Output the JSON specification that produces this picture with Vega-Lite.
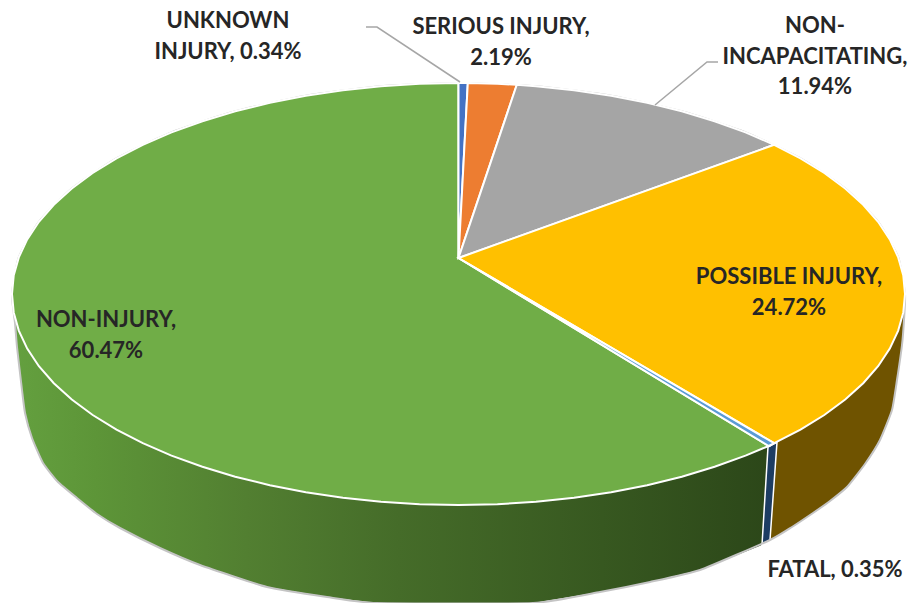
{"$schema":"https://vega.github.io/schema/vega-lite/v6.json","width":911,"height":603,"padding":0,"autosize":{"type":"none"},"background":"white","config":{"view":{"stroke":null}},
"datasets":{"shape":[
{"part":"sideGreen","i":1,"x":13,"y":300},{"part":"sideGreen","i":2,"x":15,"y":323},{"part":"sideGreen","i":3,"x":17,"y":347},{"part":"sideGreen","i":4,"x":22,"y":390},{"part":"sideGreen","i":5,"x":25,"y":413},{"part":"sideGreen","i":6,"x":32,"y":438},{"part":"sideGreen","i":7,"x":43,"y":463},{"part":"sideGreen","i":8,"x":58,"y":482},{"part":"sideGreen","i":9,"x":77,"y":498},{"part":"sideGreen","i":10,"x":97,"y":514},{"part":"sideGreen","i":11,"x":120,"y":528},{"part":"sideGreen","i":12,"x":160,"y":548},{"part":"sideGreen","i":13,"x":200,"y":565},{"part":"sideGreen","i":14,"x":267,"y":587},{"part":"sideGreen","i":15,"x":327,"y":597},{"part":"sideGreen","i":16,"x":377,"y":603},{"part":"sideGreen","i":17,"x":533,"y":603},{"part":"sideGreen","i":18,"x":600,"y":592},{"part":"sideGreen","i":19,"x":650,"y":582},{"part":"sideGreen","i":20,"x":700,"y":570},{"part":"sideGreen","i":21,"x":762,"y":545},{"part":"sideGreen","i":22,"x":768,"y":447},
{"part":"sideFatal","i":1,"x":768,"y":447},{"part":"sideFatal","i":2,"x":777,"y":442},{"part":"sideFatal","i":3,"x":770,"y":540},{"part":"sideFatal","i":4,"x":762,"y":545},
{"part":"sideYellow","i":1,"x":777,"y":442},{"part":"sideYellow","i":2,"x":905,"y":300},{"part":"sideYellow","i":3,"x":904,"y":320},{"part":"sideYellow","i":4,"x":902,"y":345},{"part":"sideYellow","i":5,"x":897,"y":380},{"part":"sideYellow","i":6,"x":892,"y":410},{"part":"sideYellow","i":7,"x":880,"y":440},{"part":"sideYellow","i":8,"x":865,"y":464},{"part":"sideYellow","i":9,"x":847,"y":487},{"part":"sideYellow","i":10,"x":830,"y":501},{"part":"sideYellow","i":11,"x":813,"y":513},{"part":"sideYellow","i":12,"x":792,"y":527},{"part":"sideYellow","i":13,"x":770,"y":540},
{"part":"outline","i":1,"x":12,"y":294},{"part":"outline","i":2,"x":18.8,"y":257.4},{"part":"outline","i":3,"x":38.9,"y":221.8},{"part":"outline","i":4,"x":71.8,"y":188.5},{"part":"outline","i":5,"x":116.5,"y":158.4},{"part":"outline","i":6,"x":171.5,"y":132.4},{"part":"outline","i":7,"x":235.2,"y":111.3},{"part":"outline","i":8,"x":305.8,"y":95.7},{"part":"outline","i":9,"x":381,"y":86.2},{"part":"outline","i":10,"x":458.5,"y":83},{"part":"outline","i":11,"x":536,"y":86.2},{"part":"outline","i":12,"x":611.2,"y":95.7},{"part":"outline","i":13,"x":681.8,"y":111.3},{"part":"outline","i":14,"x":745.5,"y":132.4},{"part":"outline","i":15,"x":800.5,"y":158.4},{"part":"outline","i":16,"x":845.2,"y":188.5},{"part":"outline","i":17,"x":878.1,"y":221.8},{"part":"outline","i":18,"x":898.2,"y":257.4},{"part":"outline","i":19,"x":905,"y":294},{"part":"outline","i":20,"x":904,"y":320},{"part":"outline","i":21,"x":902,"y":345},{"part":"outline","i":22,"x":897,"y":380},{"part":"outline","i":23,"x":892,"y":410},{"part":"outline","i":24,"x":880,"y":440},{"part":"outline","i":25,"x":865,"y":464},{"part":"outline","i":26,"x":847,"y":487},{"part":"outline","i":27,"x":830,"y":501},{"part":"outline","i":28,"x":813,"y":513},{"part":"outline","i":29,"x":792,"y":527},{"part":"outline","i":30,"x":770,"y":540},{"part":"outline","i":31,"x":700,"y":570},{"part":"outline","i":32,"x":650,"y":582},{"part":"outline","i":33,"x":600,"y":592},{"part":"outline","i":34,"x":533,"y":603},{"part":"outline","i":35,"x":377,"y":603},{"part":"outline","i":36,"x":327,"y":597},{"part":"outline","i":37,"x":267,"y":587},{"part":"outline","i":38,"x":200,"y":565},{"part":"outline","i":39,"x":160,"y":548},{"part":"outline","i":40,"x":120,"y":528},{"part":"outline","i":41,"x":97,"y":514},{"part":"outline","i":42,"x":77,"y":498},{"part":"outline","i":43,"x":58,"y":482},{"part":"outline","i":44,"x":43,"y":463},{"part":"outline","i":45,"x":32,"y":438},{"part":"outline","i":46,"x":25,"y":413},{"part":"outline","i":47,"x":22,"y":390},{"part":"outline","i":48,"x":17,"y":347},{"part":"outline","i":49,"x":15,"y":323},
{"part":"NON-INJURY","i":0,"x":458.5,"y":258},{"part":"NON-INJURY","i":1,"x":768.7,"y":446},{"part":"NON-INJURY","i":2,"x":745.5,"y":455.6},{"part":"NON-INJURY","i":3,"x":714.6,"y":466.8},{"part":"NON-INJURY","i":4,"x":681.8,"y":476.7},{"part":"NON-INJURY","i":5,"x":647.2,"y":485.2},{"part":"NON-INJURY","i":6,"x":611.2,"y":492.3},{"part":"NON-INJURY","i":7,"x":574.1,"y":497.8},{"part":"NON-INJURY","i":8,"x":536,"y":501.8},{"part":"NON-INJURY","i":9,"x":497.4,"y":504.2},{"part":"NON-INJURY","i":10,"x":458.5,"y":505},{"part":"NON-INJURY","i":11,"x":419.6,"y":504.2},{"part":"NON-INJURY","i":12,"x":381,"y":501.8},{"part":"NON-INJURY","i":13,"x":342.9,"y":497.8},{"part":"NON-INJURY","i":14,"x":305.8,"y":492.3},{"part":"NON-INJURY","i":15,"x":269.8,"y":485.2},{"part":"NON-INJURY","i":16,"x":235.2,"y":476.7},{"part":"NON-INJURY","i":17,"x":202.4,"y":466.8},{"part":"NON-INJURY","i":18,"x":171.5,"y":455.6},{"part":"NON-INJURY","i":19,"x":142.8,"y":443.2},{"part":"NON-INJURY","i":20,"x":116.5,"y":429.6},{"part":"NON-INJURY","i":21,"x":92.7,"y":415},{"part":"NON-INJURY","i":22,"x":71.8,"y":399.5},{"part":"NON-INJURY","i":23,"x":53.8,"y":383.2},{"part":"NON-INJURY","i":24,"x":38.9,"y":366.2},{"part":"NON-INJURY","i":25,"x":27.2,"y":348.6},{"part":"NON-INJURY","i":26,"x":18.8,"y":330.6},{"part":"NON-INJURY","i":27,"x":13.7,"y":312.4},{"part":"NON-INJURY","i":28,"x":12,"y":294},{"part":"NON-INJURY","i":29,"x":13.7,"y":275.6},{"part":"NON-INJURY","i":30,"x":18.8,"y":257.4},{"part":"NON-INJURY","i":31,"x":27.2,"y":239.4},{"part":"NON-INJURY","i":32,"x":38.9,"y":221.8},{"part":"NON-INJURY","i":33,"x":53.8,"y":204.8},{"part":"NON-INJURY","i":34,"x":71.8,"y":188.5},{"part":"NON-INJURY","i":35,"x":92.7,"y":173},{"part":"NON-INJURY","i":36,"x":116.5,"y":158.4},{"part":"NON-INJURY","i":37,"x":142.8,"y":144.8},{"part":"NON-INJURY","i":38,"x":171.5,"y":132.4},{"part":"NON-INJURY","i":39,"x":202.4,"y":121.2},{"part":"NON-INJURY","i":40,"x":235.2,"y":111.3},{"part":"NON-INJURY","i":41,"x":269.8,"y":102.8},{"part":"NON-INJURY","i":42,"x":305.8,"y":95.7},{"part":"NON-INJURY","i":43,"x":342.9,"y":90.2},{"part":"NON-INJURY","i":44,"x":381,"y":86.2},{"part":"NON-INJURY","i":45,"x":419.6,"y":83.8},{"part":"NON-INJURY","i":46,"x":458.5,"y":83},
{"part":"UNKNOWN INJURY","i":0,"x":458.5,"y":258},{"part":"UNKNOWN INJURY","i":1,"x":458.5,"y":83},{"part":"UNKNOWN INJURY","i":2,"x":467.8,"y":83},
{"part":"SERIOUS INJURY","i":0,"x":458.5,"y":258},{"part":"SERIOUS INJURY","i":1,"x":467.8,"y":83},{"part":"SERIOUS INJURY","i":2,"x":497.4,"y":83.8},{"part":"SERIOUS INJURY","i":3,"x":516.8,"y":84.8},
{"part":"NON-INCAPACITATING","i":0,"x":458.5,"y":258},{"part":"NON-INCAPACITATING","i":1,"x":516.8,"y":84.8},{"part":"NON-INCAPACITATING","i":2,"x":536,"y":86.2},{"part":"NON-INCAPACITATING","i":3,"x":574.1,"y":90.2},{"part":"NON-INCAPACITATING","i":4,"x":611.2,"y":95.7},{"part":"NON-INCAPACITATING","i":5,"x":647.2,"y":102.8},{"part":"NON-INCAPACITATING","i":6,"x":681.8,"y":111.3},{"part":"NON-INCAPACITATING","i":7,"x":714.6,"y":121.2},{"part":"NON-INCAPACITATING","i":8,"x":745.5,"y":132.4},{"part":"NON-INCAPACITATING","i":9,"x":774.2,"y":144.8},
{"part":"POSSIBLE INJURY","i":0,"x":458.5,"y":258},{"part":"POSSIBLE INJURY","i":1,"x":774.2,"y":144.8},{"part":"POSSIBLE INJURY","i":2,"x":800.5,"y":158.4},{"part":"POSSIBLE INJURY","i":3,"x":824.3,"y":173},{"part":"POSSIBLE INJURY","i":4,"x":845.2,"y":188.5},{"part":"POSSIBLE INJURY","i":5,"x":863.2,"y":204.8},{"part":"POSSIBLE INJURY","i":6,"x":878.1,"y":221.8},{"part":"POSSIBLE INJURY","i":7,"x":889.8,"y":239.4},{"part":"POSSIBLE INJURY","i":8,"x":898.2,"y":257.4},{"part":"POSSIBLE INJURY","i":9,"x":903.3,"y":275.6},{"part":"POSSIBLE INJURY","i":10,"x":905,"y":294},{"part":"POSSIBLE INJURY","i":11,"x":903.3,"y":312.4},{"part":"POSSIBLE INJURY","i":12,"x":898.2,"y":330.6},{"part":"POSSIBLE INJURY","i":13,"x":889.8,"y":348.6},{"part":"POSSIBLE INJURY","i":14,"x":878.1,"y":366.2},{"part":"POSSIBLE INJURY","i":15,"x":863.2,"y":383.2},{"part":"POSSIBLE INJURY","i":16,"x":845.2,"y":399.5},{"part":"POSSIBLE INJURY","i":17,"x":824.3,"y":415},{"part":"POSSIBLE INJURY","i":18,"x":800.5,"y":429.6},{"part":"POSSIBLE INJURY","i":19,"x":774.2,"y":443.2},
{"part":"FATAL","i":0,"x":458.5,"y":258},{"part":"FATAL","i":1,"x":774.2,"y":443.2},{"part":"FATAL","i":2,"x":768.7,"y":446},
{"part":"leaderA","i":1,"x":366,"y":27},{"part":"leaderA","i":2,"x":377,"y":27},{"part":"leaderA","i":3,"x":460,"y":82},
{"part":"leaderB","i":1,"x":655,"y":105},{"part":"leaderB","i":2,"x":707,"y":62},{"part":"leaderB","i":3,"x":718,"y":62}
],
"labels":[
{"label":"UNKNOWN\nINJURY, 0.34%","x":228,"y":21},
{"label":"SERIOUS INJURY,\n2.19%","x":501,"y":27},
{"label":"NON-\nINCAPACITATING,\n11.94%","x":815,"y":26},
{"label":"POSSIBLE INJURY,\n24.72%","x":789,"y":277},
{"label":"NON-INJURY,\n60.47%","x":106,"y":320},
{"label":"FATAL, 0.35%","x":835,"y":570}
]},
"layer":[
{"data":{"name":"shape"},"transform":[{"filter":"datum.part==='sideGreen'"}],"mark":{"type":"line","interpolate":"linear-closed","strokeWidth":0,"fill":{"gradient":"linear","x1":0,"y1":0,"x2":1,"y2":0,"stops":[{"offset":0,"color":"#64a03f"},{"offset":0.11,"color":"#5d9538"},{"offset":0.31,"color":"#527f31"},{"offset":0.51,"color":"#456c29"},{"offset":0.78,"color":"#375820"},{"offset":1,"color":"#2c4719"}]}},"encoding":{"x":{"field":"x","type":"quantitative","scale":{"domain":[0,911],"nice":false,"zero":false},"axis":null},"y":{"field":"y","type":"quantitative","scale":{"domain":[603,0],"nice":false,"zero":false},"axis":null},"order":{"field":"i"}}},
{"data":{"name":"shape"},"transform":[{"filter":"datum.part==='sideYellow'"}],"mark":{"type":"line","interpolate":"linear-closed","strokeWidth":0,"fill":"#6f5300"},"encoding":{"x":{"field":"x","type":"quantitative"},"y":{"field":"y","type":"quantitative"},"order":{"field":"i"}}},
{"data":{"name":"shape"},"transform":[{"filter":"datum.part==='sideFatal'"}],"mark":{"type":"line","interpolate":"linear-closed","strokeWidth":1.5,"stroke":"white","fill":"#1d3d63"},"encoding":{"x":{"field":"x","type":"quantitative"},"y":{"field":"y","type":"quantitative"},"order":{"field":"i"}}},
{"data":{"name":"shape"},"transform":[{"filter":"datum.part==='outline'"}],"mark":{"type":"line","interpolate":"cardinal-closed","tension":0.5,"strokeWidth":2,"stroke":"#c4c4c4"},"encoding":{"x":{"field":"x","type":"quantitative"},"y":{"field":"y","type":"quantitative"},"order":{"field":"i"}}},
{"data":{"name":"shape"},"transform":[{"filter":"indexof(['NON-INJURY','UNKNOWN INJURY','SERIOUS INJURY','NON-INCAPACITATING','POSSIBLE INJURY','FATAL'],datum.part)>=0"}],"mark":{"type":"line","interpolate":"linear-closed","strokeWidth":2,"stroke":"white"},"encoding":{"x":{"field":"x","type":"quantitative"},"y":{"field":"y","type":"quantitative"},"order":{"field":"i"},"fill":{"field":"part","type":"nominal","legend":null,"scale":{"domain":["NON-INJURY","UNKNOWN INJURY","SERIOUS INJURY","NON-INCAPACITATING","POSSIBLE INJURY","FATAL"],"range":["#70ad47","#4472c4","#ed7d31","#a5a5a5","#ffc000","#5b9bd5"]}}}},
{"data":{"name":"shape"},"transform":[{"filter":"datum.part==='leaderA'||datum.part==='leaderB'"}],"mark":{"type":"line","strokeWidth":1.5,"stroke":"#a6a6a6"},"encoding":{"x":{"field":"x","type":"quantitative"},"y":{"field":"y","type":"quantitative"},"order":{"field":"i"},"detail":{"field":"part"}}},
{"data":{"name":"labels"},"mark":{"type":"text","font":"Lato","fontWeight":"bold","fontSize":22,"color":"#262626","align":"center","baseline":"middle","lineBreak":"\n","lineHeight":30.5},"encoding":{"x":{"field":"x","type":"quantitative"},"y":{"field":"y","type":"quantitative"},"text":{"field":"label"}}}
]}
